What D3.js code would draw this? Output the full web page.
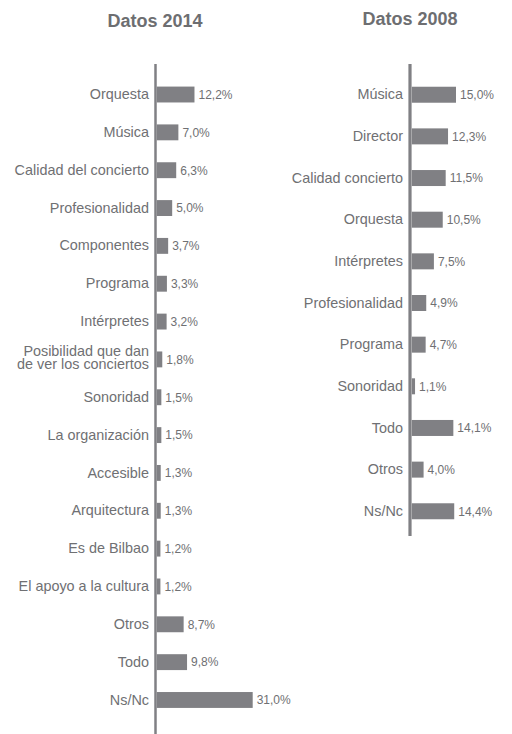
<!DOCTYPE html>
<html>
<head>
<meta charset="utf-8">
<script src="https://cdn.jsdelivr.net/npm/d3@7"></script>
<style>
  html, body { margin: 0; padding: 0; background: #ffffff; }
  svg { display: block; }
  text { font-family: "Liberation Sans", Arial, Helvetica, sans-serif; }
</style>
</head>
<body>
<svg id="chart" width="512" height="734"></svg>
<script>
// ---- Data ----
const title2014 = "Datos 2014";
const title2008 = "Datos 2008";

const categories2014 = [
  "Orquesta", "Música", "Calidad del concierto", "Profesionalidad", "Componentes",
  "Programa", "Intérpretes", "Posibilidad que dan\nde ver los conciertos", "Sonoridad",
  "La organización", "Accesible", "Arquitectura", "Es de Bilbao", "El apoyo a la cultura",
  "Otros", "Todo", "Ns/Nc"
];
const values2014 = [12.2, 7.0, 6.3, 5.0, 3.7, 3.3, 3.2, 1.8, 1.5, 1.5, 1.3, 1.3, 1.2, 1.2, 8.7, 9.8, 31.0];

const categories2008 = [
  "Música", "Director", "Calidad concierto", "Orquesta", "Intérpretes",
  "Profesionalidad", "Programa", "Sonoridad", "Todo", "Otros", "Ns/Nc"
];
const values2008 = [15.0, 12.3, 11.5, 10.5, 7.5, 4.9, 4.7, 1.1, 14.1, 4.0, 14.4];

// ---- Style ----
const barColor = "#808084";
const textColor = "#6f7073";
const titleColor = "#6d6e71";
const fmt = v => d3.format(".1f")(v).replace(".", ",") + "%";

const svg = d3.select("#chart");

function drawPanel(cfg) {
  const data = cfg.categories.map((c, i) => ({ cat: c, val: cfg.values[i] }));
  const x = d3.scaleLinear().domain(cfg.xDomain).range(cfg.xRange);
  const y = d3.scaleBand()
    .domain(cfg.categories)
    .range(cfg.yRange)
    .paddingInner(cfg.padInner)
    .paddingOuter(cfg.padInner / 2);

  const g = svg.append("g");

  // title
  g.append("text")
    .attr("x", cfg.titleX)
    .attr("y", cfg.titleY)
    .attr("text-anchor", "middle")
    .attr("font-size", 18)
    .attr("font-weight", "bold")
    .attr("fill", titleColor)
    .text(cfg.title);

  // bars
  g.selectAll("rect.bar")
    .data(data)
    .join("rect")
    .attr("class", "bar")
    .attr("x", x(0))
    .attr("y", d => y(d.cat))
    .attr("width", d => x(d.val) - x(0))
    .attr("height", y.bandwidth())
    .attr("fill", barColor);

  // value labels
  g.selectAll("text.val")
    .data(data)
    .join("text")
    .attr("class", "val")
    .attr("x", d => x(d.val) + 4)
    .attr("y", d => y(d.cat) + y.bandwidth() / 2)
    .attr("dy", "0.36em")
    .attr("font-size", 12)
    .attr("fill", textColor)
    .text(d => fmt(d.val));

  // category axis
  const axis = d3.axisLeft(y).tickSize(0).tickPadding(cfg.tickPad);
  const ag = g.append("g")
    .attr("transform", `translate(${cfg.axisX},0)`)
    .call(axis);
  ag.select(".domain").remove();
  ag.attr("font-family", null).attr("font-size", null);
  ag.selectAll(".tick text")
    .attr("font-size", 14.4)
    .attr("fill", textColor)
    .each(function(d) {
      const lines = d.split("\n");
      if (lines.length > 1) {
        const t = d3.select(this);
        const xPos = t.attr("x");
        t.text(null).attr("dy", null);
        lines.forEach((ln, i) => {
          t.append("tspan")
            .attr("x", xPos)
            .attr("y", 0)
            .attr("dy", (i === 0 ? -3.5 : 9.5) + "px")
            .text(ln);
        });
      }
    });

  // vertical axis line
  g.append("line")
    .attr("x1", cfg.axisX).attr("x2", cfg.axisX)
    .attr("y1", cfg.lineY[0]).attr("y2", cfg.lineY[1])
    .attr("stroke", barColor)
    .attr("stroke-width", cfg.lineW);
}

drawPanel({
  title: title2014, titleX: 155, titleY: 27,
  categories: categories2014, values: values2014,
  xDomain: [0, 31], xRange: [156.7, 252.7],
  yRange: [75.6, 718.9], padInner: 0.58,
  axisX: 155.5, tickPad: 6.5, lineY: [64, 734], lineW: 2.5
});

drawPanel({
  title: title2008, titleX: 410, titleY: 25,
  categories: categories2008, values: values2008,
  xDomain: [0, 15], xRange: [411.8, 456],
  yRange: [73.9, 532.1], padInner: 0.616,
  axisX: 410, tickPad: 7, lineY: [64, 536], lineW: 3.2
});
</script>
</body>
</html>
